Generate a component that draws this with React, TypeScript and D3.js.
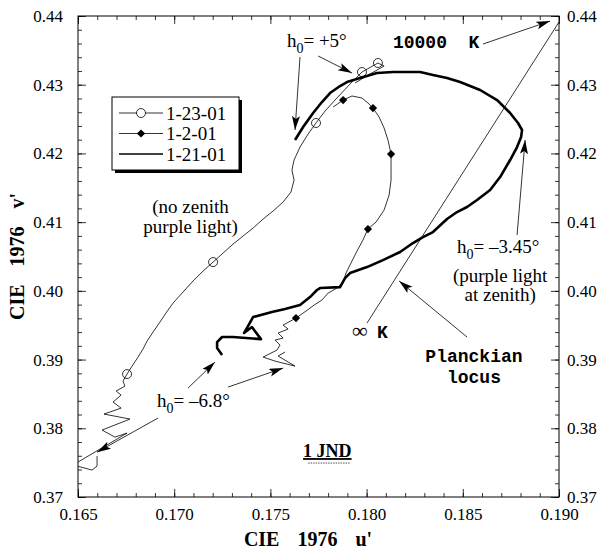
import React, { useEffect, useRef } from 'react';
import * as d3 from 'd3';

type Pt = [number, number];

// 1-23-01 : thin line, open circles (u', v')
const series0123: Pt[] = [
  [0.17940, 0.43025], [0.18018, 0.43156], [0.18091, 0.43272], [0.18059, 0.43316],
  [0.17976, 0.43185], [0.17914, 0.43010], [0.17836, 0.42777], [0.17784, 0.42617],
  [0.17737, 0.42443], [0.17696, 0.42282], [0.17654, 0.42093], [0.17623, 0.41904],
  [0.17612, 0.41758], [0.17623, 0.41613], [0.17607, 0.41438], [0.17566, 0.41293],
  [0.17514, 0.41162], [0.17462, 0.41045], [0.17410, 0.40914], [0.17358, 0.40798],
  [0.17306, 0.40681], [0.17254, 0.40550], [0.17202, 0.40419], [0.17150, 0.40288],
  [0.17098, 0.40143], [0.17046, 0.39983], [0.16994, 0.39822], [0.16957, 0.39677],
  [0.16926, 0.39546], [0.16890, 0.39400], [0.16859, 0.39269], [0.16838, 0.39153],
  [0.16812, 0.39036], [0.16781, 0.38905], [0.16755, 0.38789], [0.16734, 0.38687],
  [0.16744, 0.38614], [0.16698, 0.38542], [0.16724, 0.38483], [0.16682, 0.38381],
  [0.16724, 0.38294], [0.16635, 0.38207], [0.16770, 0.38134], [0.16625, 0.37974],
  [0.16692, 0.37872], [0.16755, 0.37930], [0.16438, 0.37406], [0.16438, 0.37493],
  [0.16573, 0.37392], [0.16599, 0.37450], [0.16599, 0.37595],
];
const markers0123: Pt[] = [
  [0.16755, 0.38789], [0.17202, 0.40419], [0.17737, 0.42443], [0.17976, 0.43185], [0.18059, 0.43316],
];

// 1-2-01 : thin line, filled diamonds
const series0102: Pt[] = [
  [0.17826, 0.42675], [0.17878, 0.42777], [0.17924, 0.42836], [0.17976, 0.42806],
  [0.18007, 0.42734], [0.18033, 0.42661], [0.18065, 0.42530], [0.18091, 0.42370],
  [0.18111, 0.42195], [0.18127, 0.41991], [0.18127, 0.41831], [0.18127, 0.41613],
  [0.18117, 0.41395], [0.18091, 0.41176], [0.18049, 0.41001], [0.18007, 0.40900],
  [0.17981, 0.40739], [0.17950, 0.40579], [0.17924, 0.40434], [0.17893, 0.40259],
  [0.17878, 0.40128], [0.17846, 0.40041], [0.17800, 0.39968], [0.17768, 0.39866],
  [0.17727, 0.39793], [0.17685, 0.39706], [0.17633, 0.39604], [0.17566, 0.39502],
  [0.17592, 0.39444], [0.17540, 0.39386], [0.17566, 0.39313], [0.17524, 0.39284],
  [0.17550, 0.39211], [0.17534, 0.39138], [0.17462, 0.39036], [0.17524, 0.38978],
  [0.17628, 0.38905], [0.17540, 0.39051], [0.17576, 0.39109],
];
const markers0102: Pt[] = [
  [0.17878, 0.42777], [0.18033, 0.42661], [0.18127, 0.41991], [0.18007, 0.40900], [0.17633, 0.39604],
];

// 1-21-01 : thick line
const series0121: Pt[] = [
  [0.17628, 0.42195], [0.17670, 0.42384], [0.17722, 0.42588], [0.17768, 0.42748],
  [0.17810, 0.42879], [0.17862, 0.42981], [0.17898, 0.43039], [0.17966, 0.43098],
  [0.18054, 0.43170], [0.18137, 0.43185], [0.18226, 0.43185], [0.18278, 0.43185],
  [0.18345, 0.43141], [0.18418, 0.43098], [0.18486, 0.43039], [0.18590, 0.42923],
  [0.18678, 0.42777], [0.18746, 0.42588], [0.18787, 0.42443], [0.18808, 0.42341],
  [0.18803, 0.42239], [0.18782, 0.42093], [0.18746, 0.41904], [0.18694, 0.41656],
  [0.18642, 0.41467], [0.18574, 0.41322], [0.18522, 0.41220], [0.18470, 0.41147],
  [0.18418, 0.41045], [0.18345, 0.40856], [0.18293, 0.40783], [0.18241, 0.40696],
  [0.18174, 0.40565], [0.18085, 0.40448], [0.18002, 0.40346], [0.17914, 0.40259],
  [0.17888, 0.40186], [0.17862, 0.40055], [0.17758, 0.40041], [0.17742, 0.40012],
  [0.17706, 0.39910], [0.17654, 0.39793], [0.17576, 0.39735], [0.17508, 0.39691],
  [0.17410, 0.39619], [0.17363, 0.39386], [0.17404, 0.39473], [0.17451, 0.39298],
  [0.17306, 0.39328], [0.17249, 0.39328], [0.17223, 0.39255], [0.17223, 0.39167],
  [0.17249, 0.39066],
];

// Planckian locus, infinity K to 10000 K
const planckian: Pt[] = [[0.18002, 0.39531], [0.19000, 0.43913]];

const xTicks = [0.165, 0.170, 0.175, 0.180, 0.185, 0.190];
const yTicks = [0.37, 0.38, 0.39, 0.40, 0.41, 0.42, 0.43, 0.44];
const legendLabels = ['1-23-01', '1-2-01', '1-21-01'];

const arrows: [Pt, Pt][] = [
  [[0.17654, 0.43403], [0.17628, 0.42341]],
  [[0.17748, 0.43418], [0.17924, 0.43170]],
  [[0.18605, 0.43592], [0.18954, 0.43927]],
  [[0.18782, 0.40812], [0.18824, 0.42195]],
  [[0.18522, 0.39328], [0.18169, 0.40143]],
  [[0.17072, 0.38585], [0.17212, 0.38964]],
  [[0.17280, 0.38600], [0.17566, 0.38876]],
  [[0.16916, 0.38149], [0.16599, 0.37653]],
];

const W = 608, H = 555;
const serif = 'Liberation Serif, Times New Roman, serif';
const mono = 'Liberation Mono, Courier New, monospace';

export default function App() {
  const ref = useRef<SVGSVGElement>(null);

  useEffect(() => {
    const svg = d3.select(ref.current);
    svg.selectAll('*').remove();

    const margin = { top: 16, right: 49, bottom: 58, left: 78 };
    const x = d3.scaleLinear().domain([0.165, 0.19]).range([margin.left, W - margin.right]);
    const y = d3.scaleLinear().domain([0.37, 0.44]).range([H - margin.bottom, margin.top]);
    const x0 = margin.left, x1 = W - margin.right, y0 = margin.top, y1 = H - margin.bottom;

    const defs = svg.append('defs');
    defs.append('clipPath').attr('id', 'plotclip')
      .append('rect').attr('x', x0).attr('y', y0).attr('width', x1 - x0).attr('height', y1 - y0);
    defs.append('marker').attr('id', 'arrowhead')
      .attr('markerUnits', 'userSpaceOnUse')
      .attr('markerWidth', 16).attr('markerHeight', 10)
      .attr('refX', 14).attr('refY', 4).attr('orient', 'auto')
      .append('path').attr('d', 'M0,0 L14,4 L0,8 L3,4 z').attr('fill', '#000');

    // axes: minor + major ticks pointing inward on all four sides
    const minorX = d3.range(0, 26).map(i => 0.165 + i * 0.001);
    const minorY = d3.range(0, 36).map(i => 0.37 + i * 0.002);
    const fmt2 = d3.format('.2f');
    const fmt3 = d3.format('.3f');

    const styleAxis = (g: any) => {
      g.select('.domain').remove();
      g.selectAll('line').attr('stroke', '#000').attr('stroke-width', 0.8);
      g.selectAll('text').attr('font-family', serif).attr('font-size', 17).attr('fill', '#000');
    };

    svg.append('g').attr('transform', `translate(0,${y1})`)
      .call(d3.axisBottom(x).tickValues(minorX).tickSize(-4).tickFormat(() => '')).call(styleAxis);
    svg.append('g').attr('transform', `translate(0,${y1})`)
      .call(d3.axisBottom(x).tickValues(xTicks).tickSize(-8).tickPadding(11).tickFormat(d => fmt3(+d))).call(styleAxis);
    svg.append('g').attr('transform', `translate(0,${y0})`)
      .call(d3.axisTop(x).tickValues(minorX).tickSize(-4).tickFormat(() => '')).call(styleAxis);
    svg.append('g').attr('transform', `translate(0,${y0})`)
      .call(d3.axisTop(x).tickValues(xTicks).tickSize(-8).tickFormat(() => '')).call(styleAxis);
    svg.append('g').attr('transform', `translate(${x0},0)`)
      .call(d3.axisLeft(y).tickValues(minorY).tickSize(-4).tickFormat(() => '')).call(styleAxis);
    svg.append('g').attr('transform', `translate(${x0},0)`)
      .call(d3.axisLeft(y).tickValues(yTicks).tickSize(-8).tickPadding(15).tickFormat(d => fmt2(+d))).call(styleAxis);
    svg.append('g').attr('transform', `translate(${x1},0)`)
      .call(d3.axisRight(y).tickValues(minorY).tickSize(-4).tickFormat(() => '')).call(styleAxis);
    svg.append('g').attr('transform', `translate(${x1},0)`)
      .call(d3.axisRight(y).tickValues(yTicks).tickSize(-8).tickPadding(8).tickFormat(d => fmt2(+d))).call(styleAxis);

    svg.append('rect').attr('x', x0).attr('y', y0).attr('width', x1 - x0).attr('height', y1 - y0)
      .attr('fill', 'none').attr('stroke', '#000').attr('stroke-width', 1);

    // axis titles
    svg.append('text').attr('x', 308).attr('y', 546).attr('text-anchor', 'middle')
      .attr('font-family', serif).attr('font-weight', 'bold').attr('font-size', 20)
      .attr('word-spacing', 4)
      .style('white-space', 'pre').text("CIE  1976  u'");
    svg.append('text').attr('transform', `translate(24,${(y0 + y1) / 2}) rotate(-90)`)
      .attr('text-anchor', 'middle')
      .attr('font-family', serif).attr('font-weight', 'bold').attr('font-size', 20)
      .attr('word-spacing', 4)
      .style('white-space', 'pre').text("CIE  1976  v'");

    const line = d3.line<Pt>().x(d => x(d[0])).y(d => y(d[1]));
    const plot = svg.append('g').attr('clip-path', 'url(#plotclip)');

    plot.append('path').attr('d', line(planckian)).attr('fill', 'none').attr('stroke', '#000').attr('stroke-width', 0.8);
    plot.append('path').attr('d', line(series0123)).attr('fill', 'none').attr('stroke', '#000').attr('stroke-width', 0.8);
    plot.append('path').attr('d', line(series0102)).attr('fill', 'none').attr('stroke', '#000').attr('stroke-width', 0.8);
    plot.append('path').attr('d', line(series0121)).attr('fill', 'none').attr('stroke', '#000')
      .attr('stroke-width', 2.6).attr('stroke-linejoin', 'round');

    const diamond = d3.symbol().type(d3.symbolSquare).size(34);
    plot.selectAll('.circ').data(markers0123).enter().append('circle')
      .attr('cx', d => x(d[0])).attr('cy', d => y(d[1])).attr('r', 4.5)
      .attr('fill', 'none').attr('stroke', '#000').attr('stroke-width', 0.8);
    plot.selectAll('.diam').data(markers0102).enter().append('path')
      .attr('d', diamond())
      .attr('transform', d => `translate(${x(d[0])},${y(d[1])}) rotate(45)`)
      .attr('fill', '#000');

    // arrows
    svg.selectAll('.arrow').data(arrows).enter().append('line')
      .attr('x1', d => x(d[0][0])).attr('y1', d => y(d[0][1]))
      .attr('x2', d => x(d[1][0])).attr('y2', d => y(d[1][1]))
      .attr('stroke', '#000').attr('stroke-width', 0.8).attr('marker-end', 'url(#arrowhead)');

    // annotation text
    const hLabel = (u: number, v: number, rest: string) => {
      const t = svg.append('text').attr('x', x(u)).attr('y', y(v))
        .attr('font-family', serif).attr('font-size', 19).style('white-space', 'pre');
      t.append('tspan').text('h');
      t.append('tspan').attr('font-size', 14).attr('dy', 6).text('0');
      t.append('tspan').attr('dy', -6).text(rest);
    };
    hLabel(0.17586, 0.43549, '= +5°');
    hLabel(0.18470, 0.40550, '= –3.45°');
    hLabel(0.16911, 0.38309, '= –6.8°');

    const serifText = (u: number, v: number, s: string, anchor = 'middle', weight = 'normal') =>
      svg.append('text').attr('x', x(u)).attr('y', y(v)).attr('text-anchor', anchor)
        .attr('font-family', serif).attr('font-size', 19).attr('font-weight', weight).text(s);
    serifText(0.17085, 0.41132, '(no zenith');
    serifText(0.17085, 0.40841, 'purple light)');
    serifText(0.18694, 0.40128, '(purple light');
    serifText(0.18694, 0.39851, 'at zenith)');

    const monoText = (u: number, v: number, s: string, anchor = 'start') =>
      svg.append('text').attr('x', x(u)).attr('y', y(v)).attr('text-anchor', anchor)
        .attr('font-family', mono).attr('font-weight', 'bold').attr('font-size', 18)
        .style('white-space', 'pre').text(s);
    monoText(0.18137, 0.43534, '10000  K');
    monoText(0.18558, 0.38964, 'Planckian', 'middle');
    monoText(0.18558, 0.38658, 'locus', 'middle');
    svg.append('text').attr('x', x(0.17924)).attr('y', y(0.39313))
      .attr('font-family', serif).attr('font-size', 22).text('∞');
    monoText(0.18054, 0.39313, 'K');

    // 1 JND scale bar
    svg.append('text').attr('x', x(0.17670)).attr('y', y(0.37581))
      .attr('font-family', serif).attr('font-weight', 'bold').attr('font-size', 18)
      .attr('text-decoration', 'underline').text('1 JND');
    svg.append('line').attr('x1', x(0.17696)).attr('x2', x(0.17914))
      .attr('y1', y(0.37494)).attr('y2', y(0.37494))
      .attr('stroke', '#555').attr('stroke-width', 1).attr('stroke-dasharray', '1.5,1');

    // legend with drop shadow
    const lg = svg.append('g');
    lg.append('rect').attr('x', 115).attr('y', 100).attr('width', 127).attr('height', 73).attr('fill', '#000');
    lg.append('rect').attr('x', 112).attr('y', 97).attr('width', 127).attr('height', 73)
      .attr('fill', '#fff').attr('stroke', '#000').attr('stroke-width', 1);
    legendLabels.forEach((name, i) => {
      const ly = 113 + i * 20.5;
      lg.append('line').attr('x1', 119).attr('x2', 163).attr('y1', ly).attr('y2', ly)
        .attr('stroke', '#000').attr('stroke-width', i === 2 ? 1.4 : 0.8);
      if (i === 0) {
        lg.append('circle').attr('cx', 141).attr('cy', ly).attr('r', 4.5)
          .attr('fill', '#fff').attr('stroke', '#000').attr('stroke-width', 0.8);
      } else if (i === 1) {
        lg.append('path').attr('d', diamond()).attr('transform', `translate(141,${ly}) rotate(45)`).attr('fill', '#000');
      }
      lg.append('text').attr('x', 166).attr('y', ly).attr('dy', '0.35em')
        .attr('font-family', serif).attr('font-size', 19).text(name);
    });
  }, []);

  return (
    <svg ref={ref} width={W} height={H}
      style={{ position: 'absolute', left: 0, top: 0, background: '#fff' }} />
  );
}
